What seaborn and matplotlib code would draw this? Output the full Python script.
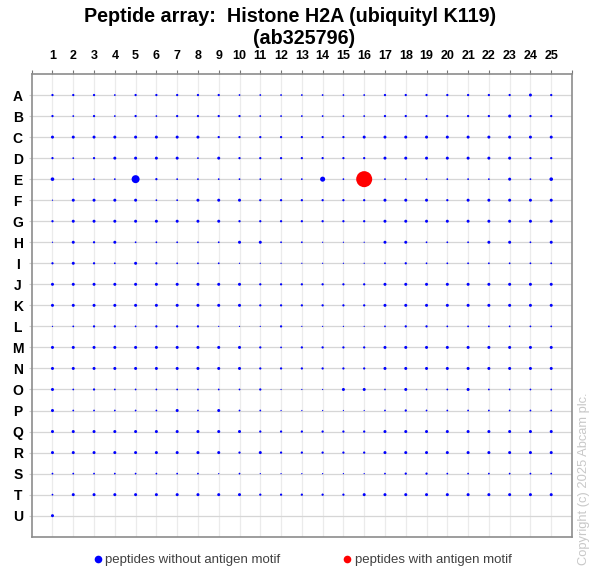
import numpy as np
import pandas as pd
import matplotlib
matplotlib.use("Agg")
import matplotlib.pyplot as plt
from matplotlib.lines import Line2D
import seaborn as sns

# ---- data -------------------------------------------------------------
rows = list("ABCDEFGHIJKLMNOPQRSTU")
cols = list(range(1, 26))

row_A = [2, 2, 2, 1.2, 2, 2, 2, 2, 2, 1.2, 1.2, 1.2, 1.2, 1.2, 1.2, 1.2, 2, 2, 2, 2, 2, 2, 2, 3.5, 2]
row_B = [2, 1.2, 2, 1.2, 2, 1.2, 2, 2, 2, 2, 1.2, 1.2, 1.2, 1.2, 1.2, 1.2, 2, 2, 2, 2, 2, 2, 3.5, 2, 2]
row_C = [3.5, 3.5, 3.5, 3.5, 3.5, 3.5, 3.5, 3.5, 2, 2, 2, 2, 2, 2, 2, 3.5, 3.5, 3.5, 3.5, 3.5, 3.5, 3.5, 3.5, 3.5, 3.5]
row_D = [2, 1.2, 2, 3.5, 3.5, 3.5, 3.5, 1.2, 3.5, 2, 2, 2, 2, 2, 2, 2, 3.5, 3.5, 3.5, 3.5, 3.5, 3.5, 3.5, 2, 2]
row_E = [5, 1.2, 1.2, 1.2, 25, 2, 1.2, 1.2, 1.2, 1.2, 1.2, 1.2, 1.2, 10, 1.2, 100, 1.2, 1.2, 1.2, 1.2, 1.2, 1.2, 3.5, 1.2, 5]
row_F = [0.6, 3.5, 3.5, 3.5, 3.5, 1.2, 1.2, 3.5, 3.5, 3.5, 2, 2, 2, 2, 2, 2, 3.5, 3.5, 3.5, 2, 3.5, 3.5, 3.5, 3.5, 3.5]
row_G = [2, 3.5, 3.5, 3.5, 3.5, 3.5, 3.5, 3.5, 3.5, 2, 2, 2, 2, 2, 2, 2, 3.5, 3.5, 3.5, 3.5, 3.5, 3.5, 3.5, 3.5, 3.5]
row_H = [0.6, 3.5, 2, 3.5, 1.2, 1.2, 1.2, 1.2, 1.2, 3.5, 3.5, 1.2, 1.2, 0.6, 0.6, 0.6, 3.5, 3.5, 1.2, 1.2, 1.2, 3.5, 3.5, 1.2, 3.5]
row_I = [2, 3.5, 2, 1.2, 3.5, 2, 1.2, 1.2, 1.2, 0.6, 0.6, 0.6, 0.6, 0.6, 0.6, 0.6, 1.2, 2, 1.2, 1.2, 1.2, 1.2, 1.2, 1.2, 1.2]
row_J = [3.5, 3.5, 3.5, 3.5, 3.5, 3.5, 3.5, 3.5, 3.5, 3.5, 2, 2, 2, 2, 2, 2, 3.5, 3.5, 3.5, 3.5, 3.5, 3.5, 3.5, 3.5, 3.5]
row_K = [3.5, 3.5, 3.5, 3.5, 3.5, 3.5, 3.5, 3.5, 3.5, 3.5, 2, 2, 2, 2, 2, 2, 3.5, 3.5, 3.5, 3.5, 3.5, 3.5, 3.5, 3.5, 3.5]
row_L = [0.6, 1.2, 2, 2, 1.2, 2, 2, 2, 0.6, 0.6, 0.6, 2, 0.6, 0.6, 0.6, 0.6, 1.2, 2, 2, 1.2, 1.2, 1.2, 1.2, 1.2, 1.2]
row_M = [3.5, 3.5, 3.5, 3.5, 3.5, 3.5, 3.5, 3.5, 3.5, 3.5, 2, 1.2, 2, 2, 2, 2, 3.5, 3.5, 3.5, 3.5, 3.5, 3.5, 3.5, 3.5, 3.5]
row_N = [3.5, 3.5, 3.5, 3.5, 3.5, 3.5, 3.5, 3.5, 3.5, 3.5, 2, 2, 2, 2, 2, 2, 3.5, 3.5, 3.5, 3.5, 3.5, 3.5, 3.5, 3.5, 3.5]
row_O = [3.5, 1.2, 2, 1.2, 1.2, 1.2, 1.2, 1.2, 1.2, 1.2, 2, 0.6, 0.6, 0.6, 3.5, 3.5, 1.2, 3.5, 1.2, 1.2, 3.5, 1.2, 1.2, 1.2, 1.2]
row_P = [3.5, 1.2, 1.2, 1.2, 1.2, 1.2, 3.5, 1.2, 3.5, 1.2, 1.2, 0.6, 0.6, 0.6, 0.6, 0.6, 1.2, 2, 1.2, 1.2, 1.2, 1.2, 1.2, 1.2, 1.2]
row_Q = [3.5, 3.5, 3.5, 3.5, 3.5, 3.5, 3.5, 3.5, 3.5, 3.5, 2, 2, 2, 2, 2, 2, 3.5, 3.5, 3.5, 3.5, 3.5, 3.5, 3.5, 3.5, 3.5]
row_R = [3.5, 3.5, 3.5, 3.5, 3.5, 3.5, 3.5, 3.5, 3.5, 2, 3.5, 2, 2, 2, 2, 2, 3.5, 3.5, 3.5, 3.5, 3.5, 3.5, 3.5, 3.5, 3.5]
row_S = [1.2, 1.2, 1.2, 1.2, 1.2, 1.2, 1.2, 1.2, 0.6, 1.2, 0.6, 0.6, 0.6, 0.6, 0.6, 0.6, 1.2, 2, 2, 1.2, 1.2, 1.2, 1.2, 1.2, 1.2]
row_T = [1.2, 3.5, 3.5, 3.5, 3.5, 3.5, 3.5, 3.5, 3.5, 3.5, 2, 2, 2, 2, 2, 3.5, 3.5, 3.5, 3.5, 3.5, 3.5, 3.5, 3.5, 3.5, 3.5]
row_U = [3.5]

motif_spots = ["E16"]

title_line1 = "Peptide array:  Histone H2A (ubiquityl K119)"
title_line2 = "(ab325796)"
legend_labels = ["peptides without antigen motif", "peptides with antigen motif"]
copyright_text = "Copyright (c) 2025 Abcam plc."

# ---- build table ------------------------------------------------------
signal = {"A": row_A, "B": row_B, "C": row_C, "D": row_D, "E": row_E, "F": row_F,
          "G": row_G, "H": row_H, "I": row_I, "J": row_J, "K": row_K, "L": row_L,
          "M": row_M, "N": row_N, "O": row_O, "P": row_P, "Q": row_Q, "R": row_R,
          "S": row_S, "T": row_T, "U": row_U}
recs = []
for ri, r in enumerate(rows):
    for ci, v in enumerate(signal[r]):
        c = cols[ci]
        recs.append({"row": ri, "col": c, "signal": v,
                     "motif": "with" if f"{r}{c}" in motif_spots else "without"})
df = pd.DataFrame(recs)

# ---- figure -----------------------------------------------------------
sns.set_theme(style="white")
plt.rcParams["font.family"] = ["Liberation Sans", "DejaVu Sans"]

W, H = 600, 577
fig = plt.figure(figsize=(W / 100, H / 100), dpi=100)
ax = fig.add_axes([31.7 / W, 1 - 536.7 / H, (572 - 31.7) / W, (536.7 - 74) / H])

# grid
for c in cols:
    ax.axvline(c, color="#ebebeb", lw=0.9, zorder=0)
for ri in range(len(rows)):
    ax.axhline(ri, color="#d6d6d6", lw=0.9, zorder=0)

smax = (16 * 0.72) ** 2
sns.scatterplot(data=df, x="col", y="row", size="signal", hue="motif",
                palette={"without": "#0000ff", "with": "#ff0000"},
                sizes=(0, smax), size_norm=(0, 100), linewidth=0,
                legend=False, ax=ax, zorder=3)

ax.set_xlim(0, 26)
ax.set_ylim(21, -1)
ax.set_xlabel("")
ax.set_ylabel("")

ax.xaxis.tick_top()
ax.set_xticks(range(0, 27))
ax.set_xticklabels([""] + [str(c) for c in cols] + [""], fontsize=9, fontweight="bold")
ax.set_yticks(range(len(rows)))
ax.set_yticklabels(rows, fontsize=10, fontweight="bold", ha="center")
ax.tick_params(axis="x", which="both", top=True, bottom=False, length=3,
               width=0.8, color="#777777", pad=5.5, labelcolor="black")
ax.tick_params(axis="y", which="both", left=True, right=False, length=2,
               width=0.8, color="#d0d0d0", pad=8, labelcolor="black")
for s in ax.spines.values():
    s.set_color("#8c8c8c")
    s.set_linewidth(1.2)
    s.set_visible(True)

# title
fig.text(290 / W, 1 - 22 / H, title_line1, ha="center", va="baseline",
         fontsize=14.2, fontweight="bold", color="black")
fig.text(304 / W, 1 - 43.5 / H, title_line2, ha="center", va="baseline",
         fontsize=14.2, fontweight="bold", color="black")

# legend
handles = [Line2D([], [], marker="o", ls="", color="#0000ff", markersize=5.5, markeredgewidth=0),
           Line2D([], [], marker="o", ls="", color="#ff0000", markersize=5.5, markeredgewidth=0)]
leg = fig.legend(handles, legend_labels, ncol=2, loc="center",
                 bbox_to_anchor=(302.5 / W, 1 - 560 / H), frameon=False,
                 fontsize=9.5, handlelength=0.6, handletextpad=0.25,
                 columnspacing=4.8, borderpad=0)
for t in leg.get_texts():
    t.set_color("#404040")

# copyright
fig.text(584 / W, 1 - 565 / H, copyright_text, rotation=90, ha="center", va="bottom",
         fontsize=9.3, color="#c8c8c8")

fig.savefig("out.png", dpi=100)
